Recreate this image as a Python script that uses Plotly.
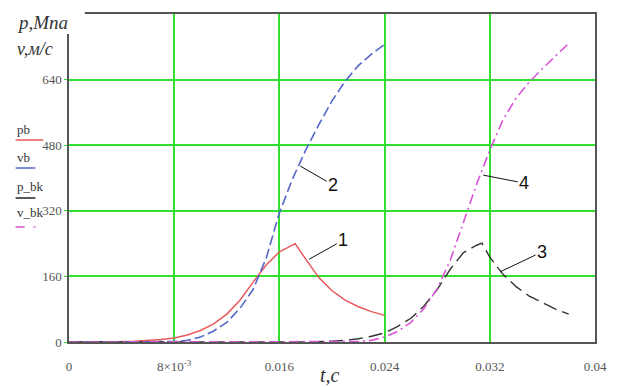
import plotly.graph_objects as go

# ---- data ----
t_pb = [0, 0.002, 0.004, 0.005, 0.006, 0.007, 0.008, 0.009, 0.010, 0.011, 0.012, 0.013,
        0.014, 0.015, 0.016, 0.0165, 0.0172, 0.018, 0.019, 0.020, 0.021, 0.022, 0.023, 0.024]
pb = [0, 0, 1, 2, 4, 6, 10, 17, 28, 44, 68, 102,
      146, 188, 220, 229, 240, 202, 157, 125, 102, 86, 74, 65]

t_vb = [0, 0.006, 0.008, 0.009, 0.010, 0.011, 0.012, 0.013, 0.014, 0.015, 0.016, 0.017,
        0.018, 0.019, 0.020, 0.021, 0.022, 0.023, 0.024]
vb = [0, 0, 1, 4, 12, 27, 48, 82, 128, 205, 315, 398,
      468, 530, 588, 636, 674, 702, 726]

t_pbk = [0, 0.018, 0.020, 0.021, 0.022, 0.023, 0.024, 0.025, 0.026, 0.027, 0.028, 0.029,
         0.030, 0.031, 0.0314, 0.032, 0.033, 0.034, 0.035, 0.036, 0.037, 0.038]
p_bk = [0, 0, 2, 4, 8, 14, 22, 38, 58, 88, 128, 178,
        218, 236, 241, 207, 165, 135, 112, 95, 80, 68]

t_vbk = [0, 0.020, 0.022, 0.023, 0.024, 0.025, 0.026, 0.027, 0.028, 0.029, 0.030, 0.031,
         0.032, 0.033, 0.034, 0.035, 0.036, 0.037, 0.038]
v_bk = [0, 0, 1, 4, 12, 26, 48, 82, 130, 200, 292, 385,
        468, 542, 595, 634, 667, 698, 728]

x_ticks = [0, 0.008, 0.016, 0.024, 0.032, 0.04]
x_labels = ["0", "8×10<sup>-3</sup>", "0.016", "0.024", "0.032", "0.04"]
y_ticks = [0, 160, 320, 480, 640]
y_labels = ["0", "160", "320", "480", "640"]

# ---- figure ----
W, H = 619, 387
L, R, T, B = 69, 18, 14, 45
PW, PH = W - L - R, H - T - B


def px(x):
    return (x - L) / PW


def py(y):
    return (H - B - y) / PH


SERIF = "Liberation Serif, Times New Roman, serif"
RED, BLUE, BLACK, MAG = "#e85a5a", "#5566c8", "#333333", "#d855d8"
fig = go.Figure()
fig.add_trace(go.Scatter(x=t_pb, y=pb, mode="lines", name="pb",
                         line=dict(color=RED, width=1.5)))
fig.add_trace(go.Scatter(x=t_vb, y=vb, mode="lines", name="vb",
                         line=dict(color=BLUE, width=1.6, dash="10px,4px")))
fig.add_trace(go.Scatter(x=t_pbk, y=p_bk, mode="lines", name="p_bk",
                         line=dict(color=BLACK, width=1.4, dash="14px,6px")))
fig.add_trace(go.Scatter(x=t_vbk, y=v_bk, mode="lines", name="v_bk",
                         line=dict(color=MAG, width=1.6, dash="10px,4px,2px,4px")))

grid = "#2fe02f"
fig.update_xaxes(range=[0, 0.04], tickvals=x_ticks, ticktext=x_labels,
                 showgrid=True, gridcolor=grid, gridwidth=1.5, zeroline=False,
                 showline=True, linecolor="#555555", linewidth=1.5, mirror=True,
                 ticks="outside", ticklen=12, tickcolor="rgba(0,0,0,0)",
                 tickfont=dict(family=SERIF, size=13, color="#555555"))
fig.update_yaxes(range=[0, 800], tickvals=y_ticks, ticktext=y_labels,
                 showgrid=True, gridcolor=grid, gridwidth=1.5, zeroline=False,
                 showline=True, linecolor="#555555", linewidth=1.5, mirror=True,
                 ticks="outside", ticklen=3, tickcolor=grid,
                 tickfont=dict(family=SERIF, size=13, color="#555555"))

shapes = []
# white patch hiding top-left frame corner (behind label)
shapes.append(dict(type="rect", xref="paper", yref="paper", x0=px(60), x1=px(85),
                   y0=py(34), y1=py(0), fillcolor="white", line=dict(width=0), layer="above"))
# legend sample lines
legend_items = [("pb", 129, 140, 43, RED, "solid"),
                ("vb", 157, 168, 35, BLUE, "solid"),
                ("p_bk", 186, 198, 35, "#222222", "solid"),
                ("v_bk", 212, 227, 35, MAG, "dash")]
annotations = []
for name, ty, ly, lx1, col, dsh in legend_items:
    annotations.append(dict(text=name, xref="paper", yref="paper", x=px(14), y=py(ty),
                            xanchor="left", yanchor="middle", showarrow=False,
                            font=dict(family=SERIF, size=13, color="#333333")))
    shapes.append(dict(type="line", xref="paper", yref="paper", x0=px(15), x1=px(lx1),
                       y0=py(ly), y1=py(ly), line=dict(color=col, width=1.5, dash=dsh)))

annotations += [
    dict(text="<i>p,Мпа</i>", xref="paper", yref="paper", x=px(14), y=py(22),
         xanchor="left", yanchor="middle", showarrow=False,
         font=dict(family=SERIF, size=19, color="#333333")),
    dict(text="<i>v,м/с</i>", xref="paper", yref="paper", x=px(14), y=py(49),
         xanchor="left", yanchor="middle", showarrow=False,
         font=dict(family=SERIF, size=18, color="#333333")),
    dict(text="<i>t,с</i>", xref="paper", yref="paper", x=px(333), y=py(375),
         xanchor="center", yanchor="middle", showarrow=False,
         font=dict(family=SERIF, size=20, color="#333333")),
]
numbers = [("2", 0.01759, 429, 33, 19), ("1", 0.01827, 202, 34, -19),
           ("4", 0.0315, 407, 41, 8), ("3", 0.03278, 171, 42, -20)]
for txt, x, y, ax, ay in numbers:
    annotations.append(dict(text=txt, x=x, y=y, ax=ax, ay=ay, xref="x", yref="y",
                            showarrow=True, arrowhead=0, arrowwidth=1, arrowcolor="#111111",
                            font=dict(family="Liberation Sans, Arial, sans-serif", size=18,
                                      color="#111111")))

fig.update_layout(width=W, height=H, margin=dict(l=L, r=R, t=T, b=B),
                  paper_bgcolor="white", plot_bgcolor="white", showlegend=False,
                  shapes=shapes, annotations=annotations)
fig.write_html("out.html", config={"displayModeBar": False},
               post_script="document.body.style.margin='0';")
